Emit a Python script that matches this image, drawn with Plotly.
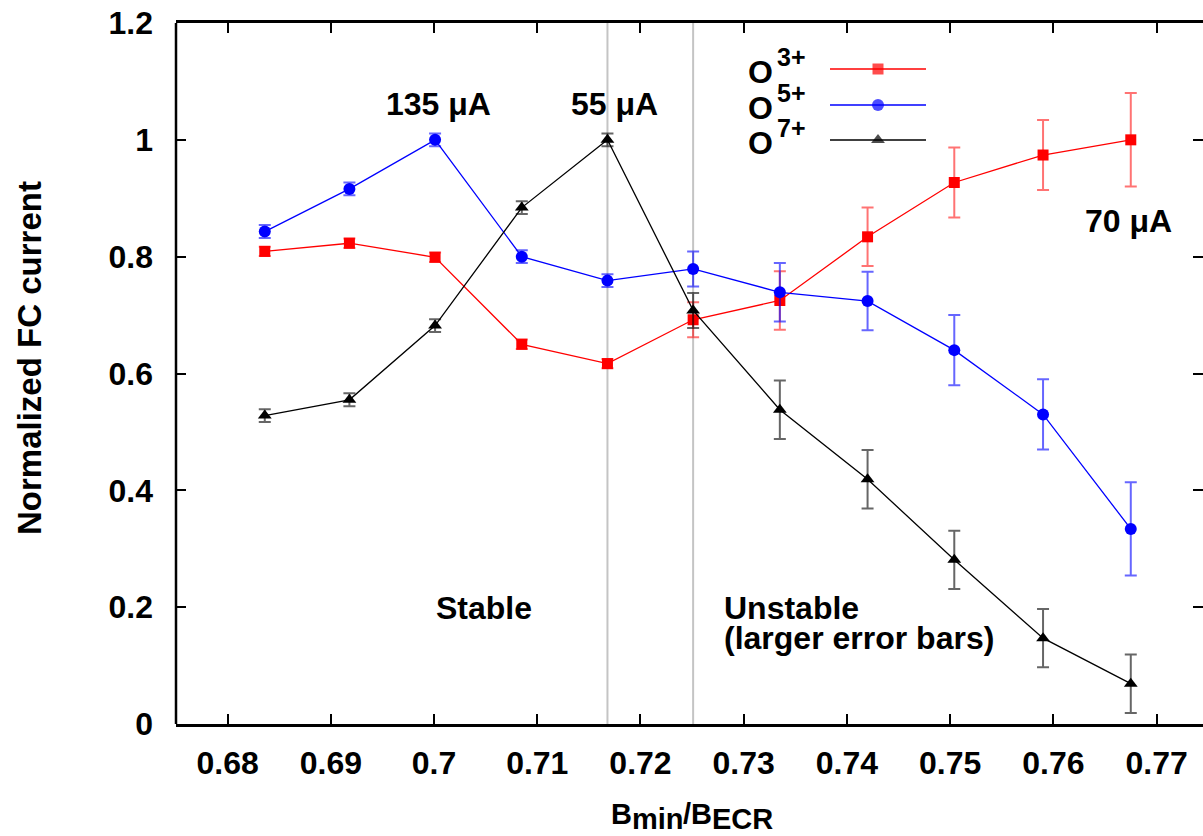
import plotly.graph_objects as go

# Magnetic field ratio B_min / B_ECR
b_ratio = [0.6836, 0.6918, 0.7001, 0.7085, 0.7168, 0.7251, 0.7335, 0.7420, 0.7504, 0.7590, 0.7675]

# Normalized Faraday-cup current per charge state
o3_current = [0.809, 0.823, 0.799, 0.650, 0.617, 0.692, 0.725, 0.834, 0.927, 0.974, 1.000]
o5_current = [0.843, 0.916, 1.000, 0.800, 0.759, 0.779, 0.739, 0.724, 0.640, 0.530, 0.334]
o7_current = [0.528, 0.555, 0.682, 0.884, 1.000, 0.708, 0.538, 0.419, 0.281, 0.147, 0.069]

# Error bars (half-widths)
o3_err = [0.008, 0.008, 0.008, 0.008, 0.008, 0.03, 0.05, 0.05, 0.06, 0.06, 0.08]
o5_err = [0.011, 0.011, 0.011, 0.011, 0.011, 0.03, 0.05, 0.05, 0.06, 0.06, 0.08]
o7_err = [0.011, 0.011, 0.011, 0.011, 0.011, 0.03, 0.05, 0.05, 0.05, 0.05, 0.05]

# Boundaries of the stable / unstable regimes
regime_bounds = [0.7168, 0.7251]

# Ion species and charge states for the key
species = "O"
charge_states = ["3+", "5+", "7+"]

FONT = "Liberation Sans, Arial, Helvetica, sans-serif"

# Page geometry (pixels)
W, H = 1203, 836
L, T = 176, 23
B = 112
PW = W - L
PH = H - T - B


def px_x(p):
    return (p - L) / PW


def px_y(p):
    return (H - B - p) / PH


series = [
    (o3_current, o3_err, "#ff0000", "rgba(255,0,0,0.55)", "square", 11),
    (o5_current, o5_err, "#0000ff", "rgba(0,0,255,0.6)", "circle", 12),
    (o7_current, o7_err, "#000000", "rgba(0,0,0,0.6)", "triangle-up", 12),
]

fig = go.Figure()

for q, (vals, errs, col, ecol, sym, msize) in zip(charge_states, series):
    fig.add_trace(go.Scatter(
        x=b_ratio, y=vals, name=species + q, mode="lines+markers",
        line=dict(color=col, width=1.3),
        marker=dict(symbol=sym, size=msize, color=col, line=dict(width=0)),
        error_y=dict(type="data", array=errs, visible=True,
                     color=ecol, thickness=2, width=6),
        showlegend=False,
    ))

# Custom key: label on the left, line sample with marker on the right
key_rows = [69, 105, 140]
for q, (vals, errs, col, ecol, sym, msize), row in zip(charge_states, series, key_rows):
    fig.add_trace(go.Scatter(
        x=[px_x(830), px_x(878), px_x(926)], y=[px_y(row)] * 3,
        mode="lines+markers", xaxis="x2", yaxis="y2",
        line=dict(color=col, width=1.3),
        marker=dict(symbol=sym, size=[0, msize, 0], color=col, line=dict(width=0)),
        showlegend=False, hoverinfo="skip",
    ))
    fig.add_annotation(
        xref="paper", yref="paper", x=px_x(775), y=px_y(row + 3),
        xanchor="right", yanchor="middle", text=species, showarrow=False,
        font=dict(family=FONT, size=32, color="black", weight="bold"),
    )
    fig.add_annotation(
        xref="paper", yref="paper", x=px_x(775), y=px_y(row - 12),
        xanchor="left", yanchor="middle", text=q, showarrow=False,
        font=dict(family=FONT, size=25, color="black", weight="bold"),
    )

# Regime boundary lines
for xb in regime_bounds:
    fig.add_shape(type="line", x0=xb, x1=xb, y0=0, y1=1, xref="x", yref="paper",
                  line=dict(color="#c4c4c4", width=2), layer="below")

# Left frame line
fig.add_shape(type="line", x0=0, x1=0, y0=0, y1=1, xref="paper", yref="paper",
              line=dict(color="black", width=2.5))

text_font = dict(family=FONT, size=32, color="black", weight="bold")
labels = [
    ("135 μA", px_x(438), px_y(104), "center"),
    ("55 μA", px_x(614), px_y(104), "center"),
    ("70 μA", px_x(1128), px_y(221), "center"),
    ("Stable", px_x(484), px_y(608), "center"),
    ("Unstable", px_x(722), px_y(608), "left"),
    ("(larger error bars)", px_x(722), px_y(638), "left"),
]
for txt, xp, yp, anchor in labels:
    fig.add_annotation(xref="paper", yref="paper", x=xp, y=yp, text=txt,
                       xanchor=anchor, yanchor="middle", showarrow=False,
                       font=text_font)

# Axis titles
fig.add_annotation(xref="paper", yref="paper", x=px_x(29), y=px_y(358),
                   text="Normalized FC current", textangle=-90, showarrow=False,
                   xanchor="center", yanchor="middle",
                   font=dict(family=FONT, size=33, color="black", weight="bold"))

# x title built from pieces so the subscripts keep full size
em = 29
title_font = dict(family=FONT, size=em, color="black", weight="bold")
pieces = [("B", 0.722, 0), ("min", 1.778, -5), ("/", 0.278, 0), ("B", 0.722, 0), ("ECR", 2.111, -5)]
total_w = sum(w for _, w, _ in pieces) * em
cursor = 690 - total_w / 2
for txt, w, shift in pieces:
    fig.add_annotation(xref="paper", yref="paper", x=px_x(cursor), y=px_y(814),
                       text=txt, showarrow=False, xanchor="left", yanchor="middle",
                       yshift=shift, font=title_font)
    cursor += w * em

fig.update_layout(
    width=W, height=H,
    margin=dict(l=L, r=0, t=T, b=B, pad=0),
    paper_bgcolor="white", plot_bgcolor="white",
    font=dict(family=FONT, size=32, color="black", weight="bold"),
    xaxis=dict(
        range=[0.675, 0.675 + PW / 10322.0], tickmode="array",
        tickvals=[0.68, 0.69, 0.70, 0.71, 0.72, 0.73, 0.74, 0.75, 0.76, 0.77],
        ticktext=["0.68", "0.69", "0.7", "0.71", "0.72", "0.73", "0.74", "0.75", "0.76", "0.77"],
        ticks="inside", ticklen=10, tickwidth=1.5, tickcolor="black",
        showline=True, linecolor="black", linewidth=2.5, mirror="ticks",
        showgrid=False, zeroline=False, ticklabelstandoff=9,
        tickfont=dict(family=FONT, size=32, color="black", weight="bold"),
    ),
    yaxis=dict(
        range=[0, 1.2], tickmode="array",
        tickvals=[0, 0.2, 0.4, 0.6, 0.8, 1.0, 1.2],
        ticktext=["0", "0.2", "0.4", "0.6", "0.8", "1", "1.2"],
        ticks="inside", ticklen=10, tickwidth=1.5, tickcolor="black",
        showline=False, mirror="ticks",
        showgrid=False, zeroline=False, ticklabelstandoff=22,
        tickfont=dict(family=FONT, size=32, color="black", weight="bold"),
    ),
    xaxis2=dict(overlaying="x", range=[0, 1], visible=False),
    yaxis2=dict(overlaying="y", range=[0, 1], visible=False),
)

fig.write_html("out.html")
